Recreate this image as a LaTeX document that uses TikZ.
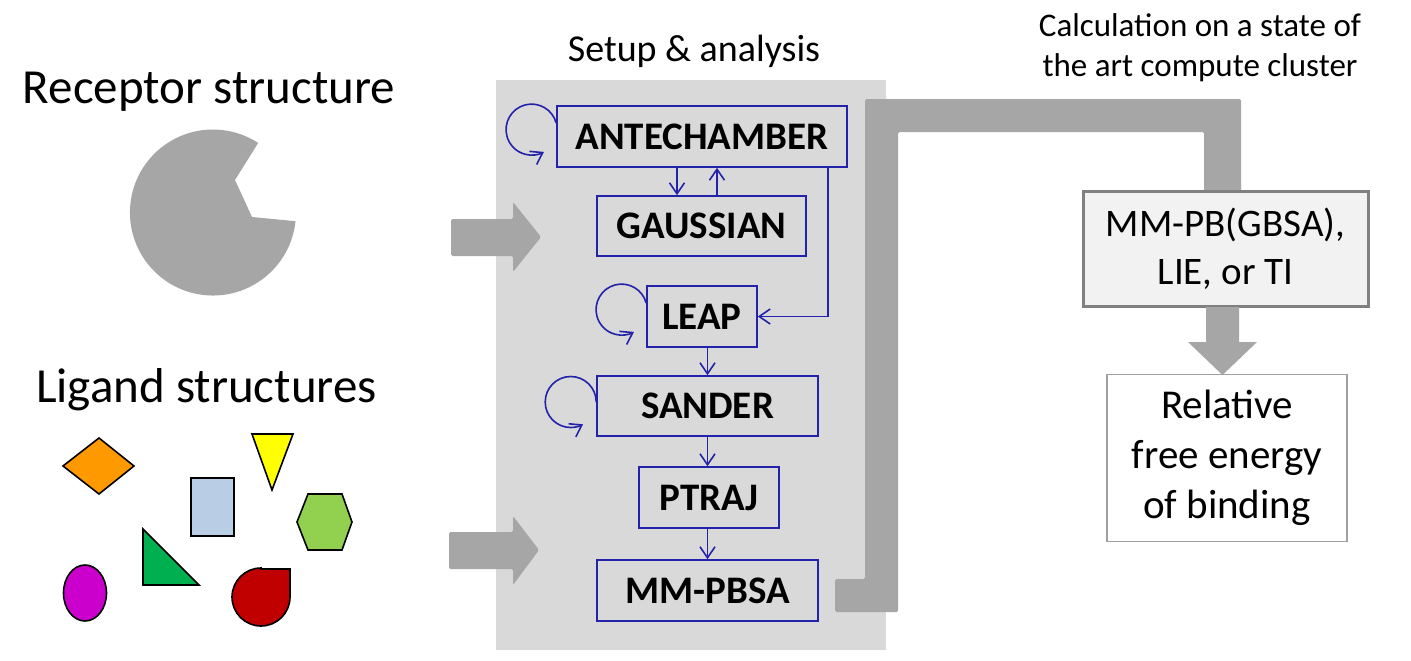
\documentclass[tikz,border=0pt]{standalone}
\usepackage{fontspec}
\setmainfont{Carlito}
\usetikzlibrary{arrows.meta,calc}
\definecolor{panelgray}{HTML}{D9D9D9}
\definecolor{pipegray}{HTML}{A6A6A6}
\definecolor{flowblue}{RGB}{34,34,170}
\definecolor{calcfill}{HTML}{F2F2F2}
\definecolor{calcline}{HTML}{808080}
\definecolor{resline}{HTML}{A0A0A0}
\definecolor{ligorange}{HTML}{FF9900}
\definecolor{ligyellow}{HTML}{FFFF00}
\definecolor{ligblue}{HTML}{B9CDE5}
\definecolor{liggreen}{HTML}{92D050}
\definecolor{ligdkgreen}{HTML}{00B050}
\definecolor{ligmagenta}{HTML}{CC00CC}
\definecolor{ligred}{HTML}{C00000}
\begin{document}
\begin{tikzpicture}[x=1pt,y=-1pt,
  tool/.style={draw=flowblue, line width=1.6pt, fill=panelgray, inner sep=0pt,
    font=\fontsize{39}{46}\selectfont\bfseries, text height=25pt, text depth=0pt},
  flow/.style={draw=flowblue, line width=1.6pt, -{Straight Barb[length=11pt,width=15pt]}},
  lig/.style={draw=black, line width=1.6pt},
  bigtitle/.style={anchor=base, font=\fontsize{49}{59}\selectfont},
  note/.style={anchor=base, font=\fontsize{33}{40}\selectfont},
  grayshape/.style={fill=pipegray, draw=none},
]
\useasboundingbox (0,0) rectangle (1411,661);
\fill[white] (0,0) rectangle (1411,661);

% titles
\node[bigtitle] (rec) at (209,103) {Receptor structure};
\node[bigtitle] (lig) at (206.5,402) {Ligand structures};
\node[anchor=base, font=\fontsize{38}{46}\selectfont] (setup) at (694,62) {Setup \& analysis};
\node[note] (calc1) at (1200,37) {Calculation on a state of};
\node[note] (calc2) at (1200,77) {the art compute cluster};

% receptor
\fill[pipegray] (258.2,142.9) -- (235,180) -- (252,217) -- (295.5,221.2)
  arc[start angle=-6, end angle=-303, radius=83pt] -- cycle;

% ligands
\filldraw[lig, fill=ligorange] (63,466) -- (99,438) -- (134,466) -- (99,494) -- cycle;
\filldraw[lig, fill=ligyellow] (252,434) -- (293,434) -- (272,490) -- cycle;
\filldraw[lig, fill=ligblue] (191,478) rectangle (234,536);
\filldraw[lig, fill=liggreen] (297,522) -- (308,494) -- (342,494) -- (352,522) -- (342,550) -- (308,550) -- cycle;
\filldraw[lig, fill=ligdkgreen] (143,529) -- (199,585) -- (143,585) -- cycle;
\filldraw[lig, fill=ligmagenta] (85,593) ellipse[x radius=21.5pt, y radius=28pt];
\filldraw[lig, fill=ligred] (261,569) -- (290,569) -- (290,597)
  arc[start angle=0, end angle=-270, radius=29pt] -- cycle;

% panel
\node[fill=panelgray, minimum width=390pt, minimum height=570pt, inner sep=0pt] (panel) at (691,365) {};

% input arrows
\fill[grayshape, rounded corners=1.5pt] (451,219) -- (513,219) -- (513,202) -- (541,237) -- (513,272) -- (513,256) -- (451,256) -- cycle;
\fill[grayshape, rounded corners=1.5pt] (449,532) -- (513,532) -- (513,516) -- (539,550) -- (513,585) -- (513,569) -- (449,569) -- cycle;

% tool boxes
\node[tool, minimum width=290pt, minimum height=61pt] (ante) at (702,136.5) {ANTECHAMBER};
\node[tool, minimum width=209pt, minimum height=60pt] (gauss) at (701.5,226) {GAUSSIAN};
\node[tool, minimum width=110pt, minimum height=61pt] (leap) at (702,316.5) {LEAP};
\node[tool, minimum width=221pt, minimum height=60pt] (sander) at (707.5,406) {SANDER};
\node[tool, minimum width=140pt, minimum height=61pt] (ptraj) at (709,497.5) {PTRAJ};
\node[tool, minimum width=221pt, minimum height=61pt] (mmpbsa) at (707.5,590.5) {MM-PBSA};

% connectors
\draw[flow] ([xshift=-25pt]ante.south) -- ([xshift=-24.5pt]gauss.north);
\draw[flow] ([xshift=15.5pt]gauss.north) -- ([xshift=15pt]ante.south);
\draw[flow] ([xshift=-20pt]ante.south east) |- (leap.east);
\draw[flow] (leap.south -| sander.north) -- (sander.north);
\draw[flow] (sander.south) -- (sander.south |- ptraj.north);
\draw[flow] (ptraj.south -| mmpbsa.north) -- (mmpbsa.north);

% self loops
\draw[flow] ([yshift=13.5pt]ante.west) arc[start angle=15, end angle=299, radius=25.5pt];
\draw[flow] ([yshift=13.5pt]leap.west) arc[start angle=15, end angle=299, radius=25.5pt];
\draw[flow] ([yshift=4pt]sander.west) arc[start angle=0, end angle=299, radius=25.5pt];

% pipe to cluster
\fill[grayshape, rounded corners=1.5pt] (835,579) -- (865,579) -- (865,99) -- (1241,99) -- (1241,192)
  -- (1204,192) -- (1204,132) -- (898,132) -- (898,612) -- (835,612) -- cycle;

% right boxes
\node[draw=calcline, line width=3pt, fill=calcfill, minimum width=285pt, minimum height=115pt,
  align=center, font=\fontsize{39}{48}\selectfont] (calc) at (1225.5,248.5) {MM-PB(GBSA),\\LIE, or TI};
\node[draw=resline, line width=1.3pt, fill=white, minimum width=240pt, minimum height=167pt,
  align=center, font=\fontsize{41}{50}\selectfont] (res) at (1227,458) {Relative\\free energy\\of binding};

% down arrow
\fill[grayshape] (1206,307) -- (1239,307) -- (1239,342) -- (1257,342) -- (1222.5,375) -- (1188,342) -- (1206,342) -- cycle;
\end{tikzpicture}
\end{document}
